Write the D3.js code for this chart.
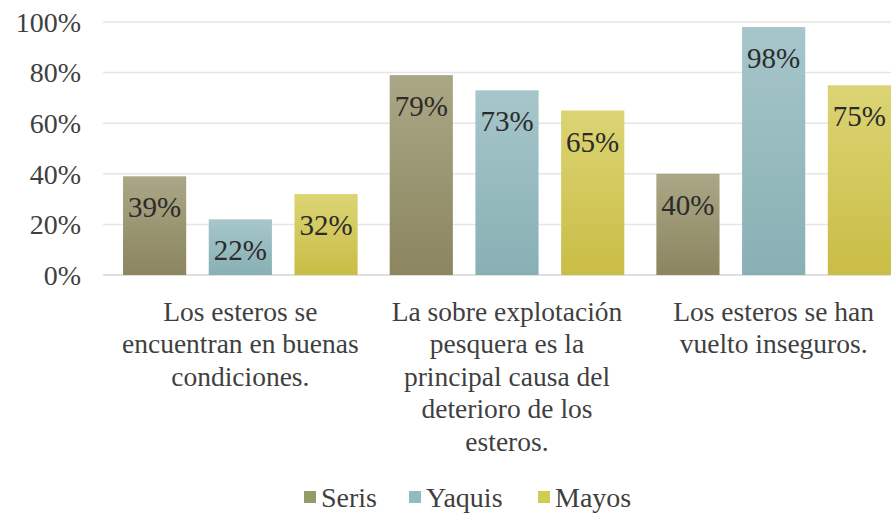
<!DOCTYPE html>
<html>
<head>
<meta charset="utf-8">
<script src="https://cdn.jsdelivr.net/npm/d3@7"></script>
<style>
  body { margin: 0; background: #fff; }
</style>
</head>
<body>
<svg id="chart" width="891" height="520"></svg>
<script>
// Data
const categories = [
  ["Los esteros se", "encuentran en buenas", "condiciones."],
  ["La sobre explotación", "pesquera es la", "principal causa del", "deterioro de los", "esteros."],
  ["Los esteros se han", "vuelto inseguros."]
];
const seriesNames = ["Seris", "Yaquis", "Mayos"];
const seris = [0.39, 0.79, 0.40];
const yaquis = [0.22, 0.73, 0.98];
const mayos = [0.32, 0.65, 0.75];
const yTicks = [0, 0.2, 0.4, 0.6, 0.8, 1.0];

const seriesValues = [seris, yaquis, mayos];
const FONT = "'Liberation Serif', serif";
// top / bottom gradient colours per series
const colors = [
  ["#aba685", "#8b8660"],
  ["#a6c6ca", "#88b0b4"],
  ["#dcd474", "#c9bd45"]
];
const legendColors = ["#969a68", "#8fbcc2", "#d2cb52"];

const svg = d3.select("#chart");
const baseY = 275, topY = 22;

const defs = svg.append("defs");
colors.forEach((c, i) => {
  const grad = defs.append("linearGradient")
    .attr("id", `grad${i}`)
    .attr("x1", 0).attr("y1", 0).attr("x2", 0).attr("y2", 1);
  grad.append("stop").attr("offset", "0%").attr("stop-color", c[0]);
  grad.append("stop").attr("offset", "100%").attr("stop-color", c[1]);
});

const y = d3.scaleLinear().domain([0, 1]).range([baseY, topY]);

const x0 = d3.scaleBand()
  .domain(d3.range(categories.length))
  .range([107, 907]);

const x1 = d3.scaleBand()
  .domain(d3.range(seriesNames.length))
  .range([0, x0.bandwidth()])
  .paddingInner(0.263)
  .paddingOuter(0.187);

// Gridlines
svg.append("g")
  .selectAll("line")
  .data(yTicks)
  .join("line")
  .attr("x1", 103)
  .attr("x2", 891)
  .attr("y1", d => y(d))
  .attr("y2", d => y(d))
  .attr("stroke", d => d === 0 ? "#d6d6d6" : "#e6e6e6")
  .attr("stroke-width", 1.5);

// Y axis labels
svg.append("g")
  .selectAll("text")
  .data(yTicks)
  .join("text")
  .attr("x", 81)
  .attr("y", d => y(d))
  .attr("dy", "0.35em")
  .attr("text-anchor", "end")
  .style("font-family", FONT)
  .attr("font-size", 28)
  .attr("fill", "#3f3f3f")
  .text(d => d3.format(".0%")(d));

// Bars
const groups = svg.append("g")
  .selectAll("g")
  .data(categories.map((c, i) => i))
  .join("g")
  .attr("transform", i => `translate(${x0(i)},0)`);

groups.selectAll("rect")
  .data(i => seriesValues.map((vals, s) => ({ s, v: vals[i] })))
  .join("rect")
  .attr("x", d => x1(d.s))
  .attr("y", d => y(d.v))
  .attr("width", x1.bandwidth())
  .attr("height", d => baseY - y(d.v))
  .attr("fill", d => `url(#grad${d.s})`);

groups.selectAll("text.val")
  .data(i => seriesValues.map((vals, s) => ({ s, v: vals[i] })))
  .join("text")
  .attr("class", "val")
  .attr("x", d => x1(d.s) + x1.bandwidth() / 2)
  .attr("y", d => y(d.v) + 31)
  .attr("dy", "0.35em")
  .attr("text-anchor", "middle")
  .style("font-family", FONT)
  .attr("font-size", 29)
  .attr("fill", "#2b2b2b")
  .text(d => d3.format(".0%")(d.v));

// Category labels
groups.append("text")
  .attr("x", x0.bandwidth() / 2)
  .attr("y", 311)
  .attr("text-anchor", "middle")
  .style("font-family", FONT)
  .attr("font-size", 27.5)
  .attr("fill", "#3f3f3f")
  .selectAll("tspan")
  .data(i => categories[i])
  .join("tspan")
  .attr("x", x0.bandwidth() / 2)
  .attr("dy", (d, k) => k === 0 ? "0.35em" : 32.5)
  .text(d => d);

// Legend
const legendX = [304, 409, 538];
const legend = svg.append("g")
  .selectAll("g")
  .data(seriesNames)
  .join("g")
  .attr("transform", (d, i) => `translate(${legendX[i]},497)`);

legend.append("rect")
  .attr("x", 0)
  .attr("y", -6)
  .attr("width", 12)
  .attr("height", 12)
  .attr("fill", (d, i) => legendColors[i]);

legend.append("text")
  .attr("x", 17)
  .attr("dy", "0.35em")
  .style("font-family", FONT)
  .attr("font-size", 28)
  .attr("fill", "#3f3f3f")
  .text(d => d);
</script>
</body>
</html>
